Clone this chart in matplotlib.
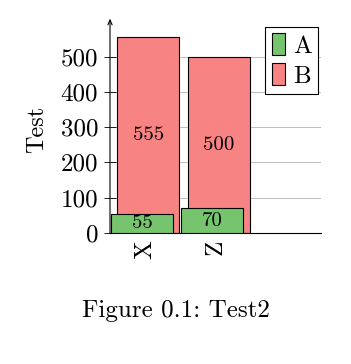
import matplotlib
matplotlib.use("Agg")
import matplotlib.pyplot as plt
import numpy as np
from matplotlib.patches import Patch

categories = ["X", "Z"]
series_a = [55, 70]
series_b = [555, 500]
yticks = [0, 100, 200, 300, 400, 500]

plt.rcParams['font.family'] = ['cmr10', 'DejaVu Serif']
plt.rcParams['axes.unicode_minus'] = False
plt.rcParams['mathtext.fontset'] = 'cm'

fig = plt.figure(figsize=(3.51, 3.64), dpi=100)
ax = fig.add_axes([0.3134, 0.3599, 0.6011, 0.572])

red = '#f88383'
green = '#76c46e'
x = np.arange(len(categories))
w = 0.88
bb = ax.bar(x + 0.045, series_b, width=w, color=red, edgecolor='black', linewidth=0.8, zorder=2)
ba = ax.bar(x - 0.045, series_a, width=w, color=green, edgecolor='black', linewidth=0.8, zorder=3)
ax.bar_label(bb, labels=[str(v) for v in series_b], label_type='center', fontsize=15, zorder=4)
ax.bar_label(ba, labels=[str(v) for v in series_a], label_type='center', fontsize=15, zorder=4)

ax.set_xlim(-0.5, 2.5)
ax.set_ylim(0, 590)
ax.set_yticks(yticks)
ax.set_yticklabels([str(v) for v in yticks], fontsize=18)
ax.set_xticks(x)
ax.set_xticklabels(categories, rotation=90, fontsize=18)
ax.tick_params(axis='x', length=0, pad=5)
ax.tick_params(axis='y', direction='inout', length=9, width=0.6, pad=4)
ax.yaxis.grid(True, color='#bdbdbd', linewidth=0.7)
ax.set_axisbelow(True)
for s in ['top', 'right']:
    ax.spines[s].set_visible(False)
ax.spines['left'].set_visible(False)
ax.spines['bottom'].set_linewidth(0.8)
ax.annotate('', xy=(0, 1.03), xycoords='axes fraction', xytext=(0, 0),
            textcoords='axes fraction',
            arrowprops=dict(arrowstyle='->,head_length=0.35,head_width=0.15', lw=0.8, color='black', shrinkA=0, shrinkB=0),
            annotation_clip=False)

ax.set_ylabel('Test', fontsize=17.5, labelpad=9)

leg = ax.legend(handles=[Patch(facecolor=green, edgecolor='black', linewidth=0.8, label='A'),
                         Patch(facecolor=red, edgecolor='black', linewidth=0.8, label='B')],
                loc='upper right', bbox_to_anchor=(0.985, 0.99), fontsize=18, frameon=True,
                fancybox=False, edgecolor='black', framealpha=1,
                handlelength=0.55, handleheight=1.0, handletextpad=0.3,
                borderpad=0.25, labelspacing=0.2, borderaxespad=0.0)
leg.get_frame().set_linewidth(0.8)

fig.text(0.5, 0.146, 'Figure 0.1: Test2', ha='center', va='center', fontsize=18)

fig.savefig('out.png', dpi=100)
